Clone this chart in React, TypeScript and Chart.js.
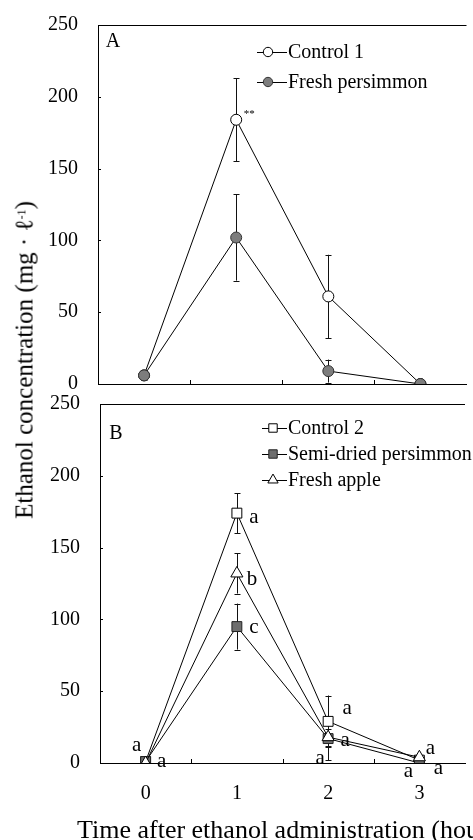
import React, { useEffect, useRef } from 'react';
import { Chart, registerables } from 'chart.js';
import { drawPoint } from 'chart.js/helpers';

Chart.register(...registerables);

// ---------- data ----------
const hours = [0, 1, 2, 3];
const minorHours = [0.5, 1.5, 2.5];
const yTickValues = [0, 50, 100, 150, 200, 250];

// Panel A
const seriesA = ['Control 1', 'Fresh persimmon'];
const control1 = [6, 184, 61, 0];
const control1Err = [2, 29, 29, 0];
const freshPersimmon = [6, 102, 9, 0];
const freshPersimmonErr = [3, 30, 8, 0];
const control1Marks = ['', '**', '', ''];

// Panel B
const seriesB = ['Control 2', 'Semi-dried persimmon', 'Fresh apple'];
const control2 = [1, 174, 29, 2];
const control2Err = [1, 14, 18, 1];
const semiDried = [1, 95, 17, 0];
const semiDriedErr = [1, 16, 15, 1];
const freshApple = [0, 132, 18, 4];
const freshAppleErr = [1, 14, 6, 1];
const control2Letters = ['', 'a', 'a', 'a'];
const semiDriedLetters = ['a', 'c', 'a', 'a'];
const freshAppleLetters = ['a', 'b', 'a', 'a'];

// ---------- styles ----------
const SERIF = "'Liberation Serif', 'Times New Roman', serif";

type Offset = [number, number] | null;

interface PanelCfg {
  panelLetter: string;
  letterPos: [number, number];
  legendX: number;
  legendTextDx: number;
  legendRows: number[];
  errors: number[][];
  marks: string[][];
  markOffsets: Offset[][];
  markFont: string;
}

function makePlugin(cfg: PanelCfg) {
  return {
    id: 'panelDecor',
    beforeDatasetsDraw(chart: any) {
      const { ctx } = chart;
      const xs = chart.scales.x;
      const ys = chart.scales.y;
      ctx.save();
      ctx.strokeStyle = '#111';
      ctx.lineWidth = 1;
      chart.data.datasets.forEach((ds: any, di: number) => {
        const errs = cfg.errors[di];
        ds.data.forEach((p: any, i: number) => {
          const e = errs[i];
          if (!e) return;
          const px = Math.round(xs.getPixelForValue(p.x)) + 0.5;
          const y1 = Math.min(ys.getPixelForValue(p.y + e), ys.bottom);
          const y2 = Math.min(ys.getPixelForValue(Math.max(p.y - e, 0)), ys.bottom);
          ctx.beginPath();
          ctx.moveTo(px, y1);
          ctx.lineTo(px, y2);
          ctx.moveTo(px - 3, Math.round(y1) + 0.5);
          ctx.lineTo(px + 3, Math.round(y1) + 0.5);
          if (p.y - e > 0) {
            ctx.moveTo(px - 3, Math.round(y2) + 0.5);
            ctx.lineTo(px + 3, Math.round(y2) + 0.5);
          }
          ctx.stroke();
        });
      });
      ctx.restore();
    },
    afterDatasetsDraw(chart: any) {
      const { ctx, chartArea } = chart;
      const xs = chart.scales.x;
      const ys = chart.scales.y;
      ctx.save();
      ctx.strokeStyle = '#000';
      ctx.lineWidth = 1;
      // top border
      ctx.beginPath();
      ctx.moveTo(chartArea.left, Math.round(chartArea.top) + 0.5);
      ctx.lineTo(chartArea.right, Math.round(chartArea.top) + 0.5);
      ctx.stroke();
      // inward minor ticks on x
      ctx.beginPath();
      minorHours.forEach((h) => {
        const px = Math.round(xs.getPixelForValue(h)) + 0.5;
        ctx.moveTo(px, chartArea.bottom);
        ctx.lineTo(px, chartArea.bottom - 4);
      });
      // inward ticks on y
      yTickValues.forEach((v) => {
        if (v === 0 || v === 250) return;
        const py = Math.round(ys.getPixelForValue(v)) + 0.5;
        ctx.moveTo(chartArea.left, py);
        ctx.lineTo(chartArea.left + 3, py);
      });
      ctx.stroke();

      // panel letter
      ctx.fillStyle = '#000';
      ctx.font = `20px ${SERIF}`;
      ctx.textAlign = 'center';
      ctx.textBaseline = 'middle';
      ctx.fillText(cfg.panelLetter, chartArea.left + cfg.letterPos[0], chartArea.top + cfg.letterPos[1]);

      // legend
      chart.data.datasets.forEach((ds: any, di: number) => {
        const cx = chartArea.left + cfg.legendX;
        const cy = chartArea.top + cfg.legendRows[di];
        ctx.strokeStyle = '#000';
        ctx.lineWidth = 1;
        ctx.beginPath();
        ctx.moveTo(cx - 11, Math.round(cy) + 0.5);
        ctx.lineTo(cx + cfg.legendTextDx - 1, Math.round(cy) + 0.5);
        ctx.stroke();
        ctx.fillStyle = ds.pointBackgroundColor;
        ctx.strokeStyle = ds.pointBorderColor;
        ctx.lineWidth = 1;
        drawPoint(ctx, { pointStyle: ds.pointStyle, radius: ds.pointRadius * 0.85, borderWidth: 1, rotation: 0 }, cx, cy);
        ctx.fillStyle = '#000';
        ctx.font = `20px ${SERIF}`;
        ctx.textAlign = 'left';
        ctx.textBaseline = 'middle';
        ctx.fillText(ds.label, cx + cfg.legendTextDx, cy + 1);
      });

      // annotations (significance marks)
      ctx.fillStyle = '#000';
      chart.data.datasets.forEach((ds: any, di: number) => {
        const marks = cfg.marks[di];
        ds.data.forEach((p: any, i: number) => {
          const t = marks[i];
          const off = cfg.markOffsets[di][i];
          if (!t || !off) return;
          const px = xs.getPixelForValue(p.x);
          const py = ys.getPixelForValue(p.y);
          ctx.font = t === '**' ? `11px ${SERIF}` : cfg.markFont;
          ctx.textAlign = 'center';
          ctx.textBaseline = 'middle';
          ctx.fillText(t, px + off[0], py + off[1]);
        });
      });
      ctx.restore();
    },
  };
}

function xy(vals: number[]) {
  return hours.map((h, i) => ({ x: h, y: vals[i] }));
}

function baseOptions(yWidth: number, xHeight: number, padTop: number, padBottom: number, showX: boolean) {
  return {
    responsive: false,
    animation: false as const,
    layout: { padding: { top: padTop, bottom: padBottom, left: 0, right: 0 } },
    plugins: { legend: { display: false }, tooltip: { enabled: false } },
    scales: {
      x: {
        type: 'linear' as const,
        min: -0.5,
        max: 3.5,
        grid: { display: false, drawTicks: false },
        border: { display: true, color: '#000', width: 1 },
        afterBuildTicks: (s: any) => {
          s.ticks = hours.map((v) => ({ value: v }));
        },
        ticks: {
          display: showX,
          color: '#000',
          padding: 19,
          font: { family: SERIF, size: 20 },
          callback: (v: any) => String(v),
        },
        afterFit: (s: any) => {
          s.height = xHeight;
          s.paddingLeft = 0;
          s.paddingRight = 0;
        },
      },
      y: {
        type: 'linear' as const,
        min: 0,
        max: 250,
        grid: { display: false, drawTicks: false },
        border: { display: true, color: '#000', width: 1 },
        afterBuildTicks: (s: any) => {
          s.ticks = yTickValues.map((v) => ({ value: v }));
        },
        ticks: {
          color: '#000',
          padding: 20,
          font: { family: SERIF, size: 20 },
          callback: (v: any) => String(v),
        },
        afterFit: (s: any) => {
          s.width = yWidth;
          s.paddingTop = 0;
          s.paddingBottom = 0;
        },
      },
    },
  };
}

function lineDs(label: string, vals: number[], style: string, radius: number, bg: string, border: string, order: number) {
  return {
    label,
    data: xy(vals),
    borderColor: '#000',
    borderWidth: 1,
    tension: 0,
    fill: false,
    pointStyle: style,
    pointRadius: radius,
    pointBackgroundColor: bg,
    pointBorderColor: border,
    pointBorderWidth: 1,
    order,
  };
}

export default function App() {
  const refA = useRef<HTMLCanvasElement>(null);
  const refB = useRef<HTMLCanvasElement>(null);

  useEffect(() => {
    const chartA = new Chart(refA.current as HTMLCanvasElement, {
      type: 'line',
      data: {
        datasets: [
          lineDs(seriesA[0], control1, 'circle', 5.5, '#ffffff', '#000', 1),
          lineDs(seriesA[1], freshPersimmon, 'circle', 5.5, '#7d7d7d', '#333', 0),
        ] as any,
      },
      options: baseOptions(98, 0, 25, 16, false) as any,
      plugins: [
        makePlugin({
          panelLetter: 'A',
          letterPos: [15, 17],
          legendX: 170,
          legendTextDx: 20,
          legendRows: [27, 57],
          errors: [control1Err, freshPersimmonErr],
          marks: [control1Marks, ['', '', '', '']],
          markOffsets: [[null, [13, -6], null, null], [null, null, null, null]],
          markFont: `11px ${SERIF}`,
        }),
      ],
    });

    const chartB = new Chart(refB.current as HTMLCanvasElement, {
      type: 'line',
      data: {
        datasets: [
          lineDs(seriesB[0], control2, 'rect', 7, '#ffffff', '#000', 2),
          lineDs(seriesB[1], semiDried, 'rect', 7, '#6e6e6e', '#222', 1),
          lineDs(seriesB[2], freshApple, 'triangle', 7, '#ffffff', '#000', 0),
        ] as any,
      },
      options: baseOptions(100, 77, 16, 0, true) as any,
      plugins: [
        makePlugin({
          panelLetter: 'B',
          letterPos: [16, 30],
          legendX: 173,
          legendTextDx: 15,
          legendRows: [24, 50, 76],
          errors: [control2Err, semiDriedErr, freshAppleErr],
          marks: [control2Letters, semiDriedLetters, freshAppleLetters],
          markOffsets: [
            [null, [17, 4], [19, -13], [19, 8]],
            [[-9, -16], [17, 1], [-8, 20], [-11, 8]],
            [[16, -2], [15, 6], [17, 3], [11, -9]],
          ],
          markFont: `21px ${SERIF}`,
        }),
      ],
    });

    return () => {
      chartA.destroy();
      chartB.destroy();
    };
  }, []);

  return (
    <div
      style={{
        position: 'absolute',
        left: 0,
        top: 0,
        width: 473,
        height: 840,
        overflow: 'hidden',
        background: '#fff',
        fontFamily: SERIF,
        color: '#000',
      }}
    >
      <canvas ref={refA} width={473} height={400} style={{ position: 'absolute', left: 0, top: 0, display: 'block' }} />
      <canvas ref={refB} width={473} height={452} style={{ position: 'absolute', left: 0, top: 388, display: 'block' }} />
      <div
        style={{
          position: 'absolute',
          left: 24,
          top: 360,
          transform: 'translate(-50%, -50%) rotate(-90deg)',
          whiteSpace: 'nowrap',
          fontSize: 25,
          lineHeight: '25px',
        }}
      >
        Ethanol concentration (mg · ℓ<sup style={{ fontSize: 12, verticalAlign: 'top', position: 'relative', top: -2 }}>-1</sup>)
      </div>
      <div
        style={{
          position: 'absolute',
          left: 77,
          top: 817,
          whiteSpace: 'nowrap',
          fontSize: 26,
          lineHeight: '26px',
        }}
      >
        Time after ethanol administration (hours)
      </div>
    </div>
  );
}
